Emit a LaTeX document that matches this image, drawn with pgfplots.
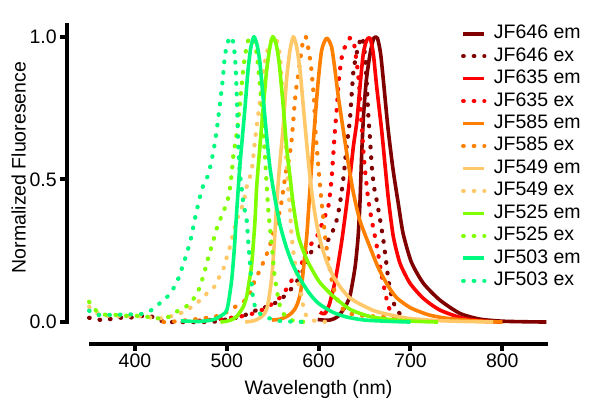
\documentclass[border=0pt]{standalone}
\usepackage{fontspec}
\setmainfont{Liberation Sans}
\usepackage{pgfplots}
\pgfplotsset{compat=1.18}
\definecolor{c646}{RGB}{128,0,0}
\definecolor{c635}{RGB}{255,0,0}
\definecolor{c585}{RGB}{255,128,0}
\definecolor{c549}{RGB}{255,200,105}
\definecolor{c525}{RGB}{128,255,0}
\definecolor{c503}{RGB}{0,250,128}
\newcommand{\fs}{\fontsize{19.5bp}{23bp}\selectfont}
\begin{document}
\begin{tikzpicture}
\useasboundingbox (-66.7bp,-63.7bp) rectangle (533.3bp,344.3bp);
\begin{axis}[
  at={(0,0)}, anchor=south west,
  scale only axis, width=481.5bp, height=321bp,
  xmin=325.6, xmax=850, ymin=-0.078, ymax=1.047,
  clip=false,
  axis x line*=bottom, axis y line*=left,
  axis line style={draw=none},
  xtick={400,500,600,700,800}, ytick={0,0.5,1},
  tick align=outside, major tick length=6.5bp,
  tick style={line width=4bp, black},
  yticklabel style={/pgf/number format/.cd, fixed, fixed zerofill, precision=1},
  /pgf/number format/assume math mode=true,
  tick label style={font=\fs},
  label style={font=\fs},
  xlabel={Wavelength (nm)}, ylabel={Normalized Fluoresence},
  xlabel style={at={(axis description cs:0.523,-0.142)}, anchor=center},
  ylabel style={at={(axis description cs:-0.100,0.551)}, anchor=center},
  legend style={at={(axis description cs:0.819,0.9955)}, anchor=north west,
    draw=none, fill=none, inner sep=0pt, outer sep=0pt, font=\fs, row sep=4.45bp,
    nodes={inner sep=0pt, font=\fs, text height=14bp, text depth=4bp},
    /tikz/every odd column/.append style={column sep=7.5bp}},
  legend cell align=left,
  legend image code/.code={\draw[#1] (0bp,0bp) -- (21.2bp,0bp);},
  em/.style={line width=3.6bp, line join=round, smooth, tension=0.4},
  ex/.style={line width=4.2bp, line cap=round, dash pattern=on 0.6bp off 10bp, smooth, tension=0.4},
]
% JF646 em
\addplot[c646, em] coordinates {(599,0.009)(605,0.007)(612,0.007)(617,0.012)(621,0.02)(625,0.035)(630,0.06)(634,0.09)(637,0.14)(640,0.2)(643,0.3)(645,0.42)(647,0.6)(649,0.73)(652,0.85)(656,0.94)(660,0.995)(664,0.995)(667.5,0.94)(671,0.83)(675.5,0.68)(681,0.535)(686.7,0.416)(692,0.31)(701,0.21)(714,0.136)(732,0.077)(754,0.03)(776,0.01)(800,0.003)(825,0.001)(848,0)};
\addlegendentry{JF646 em}
% JF646 ex
\addplot[c646, ex] coordinates {(350,0.015)(358,0.009)(367,0.007)(376,0.012)(384,0.015)(393,0.017)(401,0.015)(409,0.022)(416,0.022)(424,0.01)(431,0.002)(440,0)(467,0)(485,0.001)(496,0.007)(510,0.015)(516,0.019)(527,0.035)(538,0.048)(549,0.06)(560,0.083)(569,0.112)(576,0.141)(581.5,0.17)(587,0.211)(592,0.246)(601,0.265)(608,0.28)(613,0.3)(619.6,0.357)(623.2,0.416)(626.8,0.5)(630.5,0.615)(634,0.708)(636,0.8)(638,0.883)(641.4,0.942)(645,0.985)(647,1.0)(649.5,0.965)(651,0.91)(652.5,0.83)(654,0.73)(656,0.64)(658,0.54)(660.5,0.47)(663,0.43)(667,0.357)(670.5,0.287)(673.3,0.217)(676,0.147)(679.5,0.089)(685,0.042)(692,0.019)(696,0.009)};
\addlegendentry{JF646 ex}
% JF635 em
\addplot[c635, em] coordinates {(601.4,0.035)(604,0.03)(607,0.03)(609,0.042)(611.5,0.06)(614,0.09)(617,0.13)(620,0.18)(625,0.28)(630,0.4)(634.5,0.52)(638,0.62)(641.5,0.7)(645,0.825)(648.6,0.94)(652.3,0.988)(656,0.995)(659.5,0.942)(663.2,0.825)(668.6,0.673)(672.3,0.55)(676,0.43)(681.3,0.3)(688.6,0.206)(699.5,0.136)(714,0.083)(732,0.042)(757.5,0.013)(783,0.002)(800,0)};
\addlegendentry{JF635 em}
% JF635 ex
\addplot[c635, ex] coordinates {(470,0.005)(485,0.008)(500,0.013)(512,0.018)(523,0.025)(534,0.036)(545,0.054)(556,0.08)(563,0.106)(572,0.153)(579.7,0.188)(584,0.23)(589,0.26)(594,0.283)(600,0.311)(605,0.357)(610.5,0.404)(614,0.5)(616,0.59)(617.8,0.673)(619.6,0.743)(621.4,0.825)(623.2,0.883)(626,0.942)(630.5,0.977)(634,0.995)(637.7,0.99)(639.6,0.953)(642,0.895)(644.2,0.825)(645.8,0.743)(647.2,0.673)(648.6,0.603)(650.5,0.533)(654,0.43)(657.8,0.357)(661.3,0.3)(665,0.235)(668.6,0.165)(672.3,0.106)(676,0.054)(681.3,0.025)(687,0.01)(692,0.003)};
\addlegendentry{JF635 ex}
% JF585 em
\addplot[c585, em] coordinates {(549,0.007)(558,0.01)(565,0.019)(570,0.03)(574,0.045)(577,0.065)(579.7,0.095)(581.5,0.13)(583.3,0.182)(587,0.3)(589.5,0.416)(592,0.533)(596,0.708)(599.6,0.848)(603.3,0.953)(608.7,0.995)(614,0.965)(617.8,0.883)(621.4,0.79)(626.8,0.673)(632.3,0.556)(638,0.45)(645,0.355)(655,0.27)(665,0.19)(675,0.13)(685,0.085)(700,0.05)(720,0.025)(740,0.013)(770,0.004)(800,0)};
\addlegendentry{JF585 em}
% JF585 ex
\addplot[c585, ex] coordinates {(431,0)(440,0.001)(455,0.006)(474,0.013)(491,0.022)(505,0.044)(511,0.058)(516,0.068)(521.6,0.08)(526,0.11)(530.7,0.147)(536,0.182)(541.5,0.223)(547,0.27)(552.5,0.334)(558,0.393)(561.5,0.463)(564,0.521)(567,0.56)(570,0.62)(572,0.69)(574,0.77)(576,0.83)(578,0.872)(580.4,0.93)(583.3,0.99)(586,1.0)(588.7,0.96)(591.6,0.9)(593.5,0.837)(595,0.778)(596,0.708)(597,0.65)(598.5,0.591)(600,0.533)(602,0.46)(604.5,0.38)(607,0.3)(610.5,0.22)(614,0.15)(619,0.09)(624,0.055)(630,0.035)(640,0.025)(660,0.02)(685,0.015)(700,0.01)};
\addlegendentry{JF585 ex}
% JF549 em
\addplot[c549, em] coordinates {(520,0)(530,0.005)(538,0.019)(542,0.035)(545,0.066)(549,0.159)(551.7,0.276)(554.3,0.416)(557,0.53)(561.5,0.69)(565,0.848)(568.8,0.953)(572.4,1.0)(576,0.965)(579.7,0.883)(583.3,0.755)(587,0.626)(590.5,0.51)(594,0.42)(598,0.34)(603,0.27)(609,0.21)(616,0.16)(623,0.125)(632,0.09)(641,0.07)(660,0.04)(678,0.025)(700,0.012)(730,0.005)(760,0.002)(790,0)};
\addlegendentry{JF549 em}
% JF549 ex
\addplot[c549, ex] coordinates {(350,0.054)(356,0.036)(364,0.025)(375,0.02)(390,0.022)(405,0.02)(420,0.015)(429,0.013)(438,0.019)(449,0.03)(456,0.042)(465,0.06)(473,0.083)(480,0.106)(487,0.126)(491,0.153)(494.4,0.176)(498,0.2)(500,0.229)(503.4,0.264)(507,0.311)(510.7,0.357)(514.3,0.387)(518,0.416)(521.6,0.474)(527,0.53)(530.7,0.638)(534.3,0.73)(538,0.82)(540.5,0.89)(543.4,0.942)(547,0.977)(551.7,1.0)(555.4,0.977)(558,0.93)(559.7,0.848)(561.5,0.766)(562.6,0.685)(564,0.615)(565,0.556)(567,0.463)(568.8,0.393)(570.6,0.3)(574.2,0.206)(578,0.136)(581.5,0.089)(583.3,0.054)(587,0.019)(595,0.005)(610,0)};
\addlegendentry{JF549 ex}
% JF525 em
\addplot[c525, em] coordinates {(493,0)(500,0.003)(505,0.008)(510.7,0.019)(518,0.054)(521.6,0.089)(523.4,0.124)(527,0.2)(530.7,0.357)(532.5,0.474)(536,0.615)(539.7,0.755)(543.4,0.883)(547,0.965)(550,1.0)(553.5,0.977)(557,0.907)(561.5,0.755)(565,0.615)(568.8,0.51)(572.4,0.41)(578,0.3)(585,0.235)(590,0.2)(601,0.14)(616,0.09)(634,0.045)(655,0.02)(680,0.008)(710,0.002)(730,0)};
\addlegendentry{JF525 em}
% JF525 ex
\addplot[c525, ex] coordinates {(350,0.071)(356,0.045)(362,0.03)(370,0.025)(380,0.025)(390,0.022)(400,0.022)(410,0.02)(420,0.015)(430,0.012)(438,0.02)(445,0.036)(453.7,0.05)(460,0.066)(465.3,0.089)(470,0.118)(475,0.168)(479.8,0.227)(484.6,0.278)(489,0.328)(492.5,0.357)(496,0.387)(500,0.416)(503,0.46)(505.3,0.521)(507,0.58)(510.7,0.661)(513.6,0.743)(516,0.825)(518.7,0.907)(521.6,0.965)(525,1.0)(529,0.98)(532.5,0.942)(535.4,0.85)(538,0.755)(541.5,0.58)(545,0.4)(549,0.265)(552.5,0.15)(558,0.055)(565,0.015)(575,0.003)(590,0)};
\addlegendentry{JF525 ex}
% JF503 em
\addplot[c503, em] coordinates {(450,0.004)(470,0.002)(485,0.008)(492,0.019)(500,0.042)(505,0.14)(508,0.25)(511,0.4)(514,0.54)(517,0.65)(520,0.76)(523,0.88)(526,0.96)(529.5,1.0)(533,0.97)(536,0.91)(540,0.77)(543.4,0.65)(547,0.54)(552,0.44)(558,0.34)(565,0.26)(572,0.2)(580,0.15)(590,0.1)(600,0.065)(615,0.035)(630,0.018)(650,0.007)(680,0.002)(700,0)};
\addlegendentry{JF503 em}
% JF503 ex
\addplot[c503, ex] coordinates {(350,0.04)(355,0.03)(360,0.025)(370,0.025)(380,0.025)(390,0.027)(400,0.027)(410,0.03)(417,0.04)(423.6,0.056)(430,0.075)(438,0.098)(446.5,0.147)(454.8,0.225)(460,0.28)(463.5,0.334)(467,0.387)(470.8,0.44)(475,0.486)(479.8,0.515)(485.3,0.597)(489,0.673)(492.5,0.766)(495.5,0.848)(498,0.936)(502,0.99)(505,1.0)(507.5,0.97)(509.5,0.9)(511,0.78)(512.5,0.62)(514,0.53)(516,0.474)(518,0.416)(521.6,0.357)(523.4,0.28)(525.2,0.206)(527,0.136)(528.8,0.077)(532.5,0.042)(540,0.02)(550,0.01)(560,0.003)(590,0)};
\addlegendentry{JF503 ex}
% axis lines (offset, Prism style)
\draw[line width=4bp, black] (axis cs:350,-0.078) -- (axis cs:850,-0.078);
\draw[line width=4bp, black] (axis cs:325.6,-0.007) -- (axis cs:325.6,1.047);
\end{axis}
\end{tikzpicture}
\end{document}
